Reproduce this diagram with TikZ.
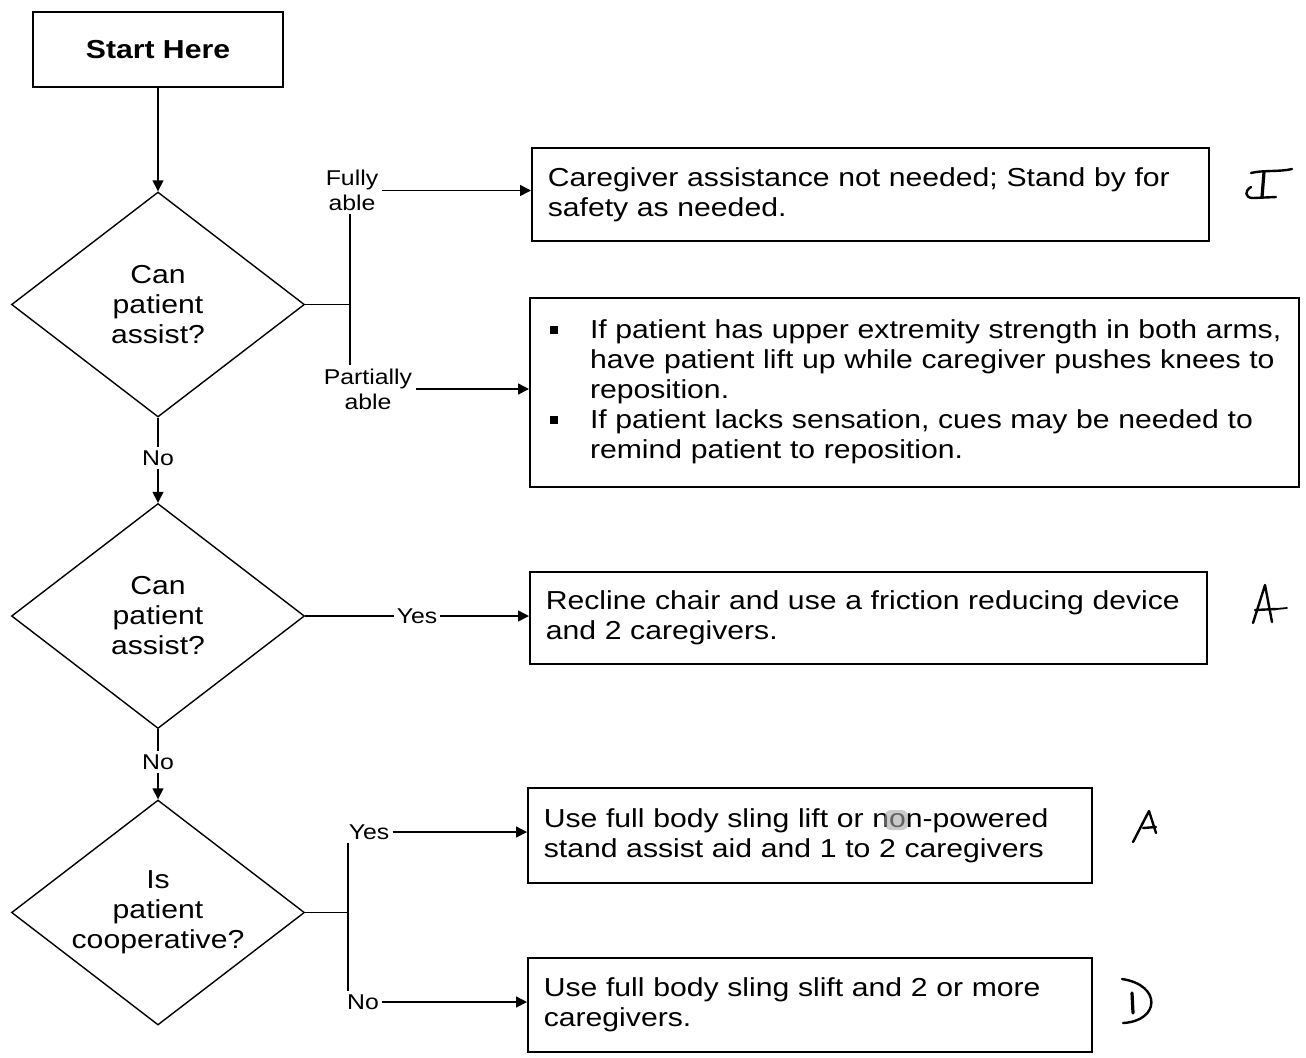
\documentclass[tikz,border=0pt]{standalone}
\usepackage{fontspec}
\setmainfont{Liberation Sans}[FakeStretch=1.16]
\usetikzlibrary{shapes.geometric,arrows.meta}

% small filled square used as a list bullet
\newcommand{\bsq}{\raisebox{0.3ex}{\rule{3.9pt}{3.9pt}}}

\begin{document}
\begin{tikzpicture}[x=0.5pt,y=-0.5pt,
  every node/.style={font=\fontsize{13pt}{15pt}\selectfont},
  line/.style={line width=0.75pt},
  arr/.style={line, -{Triangle[length=5.5pt,width=5.5pt]}},
  box/.style={draw, line width=0.8pt, anchor=north west, align=left,
              inner xsep=8pt, inner ysep=0pt},
  startbox/.style={draw, line width=1.2pt, minimum width=125pt, minimum height=37.5pt,
              font=\fontsize{13pt}{15pt}\selectfont\bfseries},
  dia/.style={draw, diamond, aspect=1.3, line width=0.7pt, inner sep=0pt, align=center,
              minimum width=146.5pt, minimum height=112.5pt},
  lbl/.style={font=\fontsize{10.7pt}{12.5pt}\selectfont, inner sep=1.5pt, align=center},
  hand/.style={line width=1.2pt, line cap=round, line join=round}
]
\useasboundingbox (0,0) rectangle (1306,1057);

% start and decisions
\node[startbox] (start) at (158,49.5) {Start Here};
\node[dia] (d1) at (158,304.5) {Can\\patient\\assist?};
\node[dia] (d2) at (158,616) {Can\\patient\\assist?};
\node[dia] (d3) at (158,912.5) {Is\\patient\\cooperative?};

% outcome boxes
\node[box, text width=322.5pt, minimum height=46.5pt] (b1) at (531,147)
  {Caregiver assistance not needed; Stand by for\\safety as needed.};
\node[box, inner xsep=10pt, text width=364.5pt, minimum height=94.5pt] (b2) at (529,297)
  {\begin{tabular}{@{}l@{\hspace{16.2pt}}l@{}}
   \bsq & If patient has upper extremity strength in both arms,\\
        & have patient lift up while caregiver pushes knees to\\
        & reposition.\\
   \bsq & If patient lacks sensation, cues may be needed to\\
        & remind patient to reposition.
   \end{tabular}};
\node[box, text width=322.5pt, minimum height=46pt] (b3) at (529,571)
  {Recline chair and use a friction reducing device\\and 2 caregivers.};
\node[box, text width=266pt, minimum height=47.5pt] (b4) at (527,787)
  {Use full body sling lift or non-powered\\stand assist aid and 1 to 2 caregivers};
\node[box, text width=266pt, minimum height=47pt] (b5) at (527,957)
  {Use full body sling slift and 2 or more\\caregivers.};

% ink blot over the word "non"
\fill[gray!70, opacity=0.6, rounded corners=3] (885,810) rectangle (908,830);

% branch labels
\node[lbl] (fully) at (352,190.5) {Fully\\able};
\node[lbl] (partial) at (368,389) {Partially\\able};
\node[lbl, fill=white] (no1) at (158,458) {No};
\node[lbl, fill=white] (no2) at (158,762) {No};
\node[lbl] (yes3) at (369,832) {Yes};
\node[lbl] (no3) at (363,1002) {No};
\coordinate (j1) at (350,304.5);
\coordinate (j3) at (348,912.5);

% connectors
\draw[arr] (start.south) -- (d1.north);

\draw[line] (d1.east) -- (j1);
\draw[line] (j1 |- fully.south) -- (j1 |- partial.north);
\draw[arr] (fully.east) -- (fully.east -| b1.west);
\draw[arr] (partial.east) -- (partial.east -| b2.west);

\draw[line] (d1.south) -- (no1.north);
\draw[arr] (no1.south) -- (d2.north);

\draw[arr] (d2.east) -- node[lbl, fill=white] {Yes} (d2.east -| b3.west);

\draw[line] (d2.south) -- (no2.north);
\draw[arr] (no2.south) -- (d3.north);

\draw[line] (d3.east) -- (j3);
\draw[line] (j3 |- yes3.south) -- (j3 |- no3.north);
\draw[arr] (yes3.east) -- (yes3.east -| b4.west);
\draw[arr] (no3.east) -- (no3.east -| b5.west);

% handwritten category marks beside the boxes
\draw[hand] (1251,173) .. controls (1262,170) and (1280,172) .. (1292,169);
\draw[hand, line width=1.6pt] (1264,172) -- (1262,197);
\draw[hand] (1251,187) .. controls (1244,191) and (1245,198) .. (1253,198) -- (1276,197);

\draw[hand] (1253,623) -- (1265,585) -- (1272,622);
\draw[hand] (1255,610) -- (1276,609);
\draw[hand, line width=0.9pt] (1276,609) -- (1287,608);

\draw[hand] (1133,842) -- (1149,811) -- (1156,833);
\draw[hand] (1143,828) -- (1156,827);

\draw[hand, line width=1.6pt] (1132,993) -- (1133,1013);
\draw[hand] (1122,979) .. controls (1162,985) and (1160,1021) .. (1123,1023);
\end{tikzpicture}
\end{document}
